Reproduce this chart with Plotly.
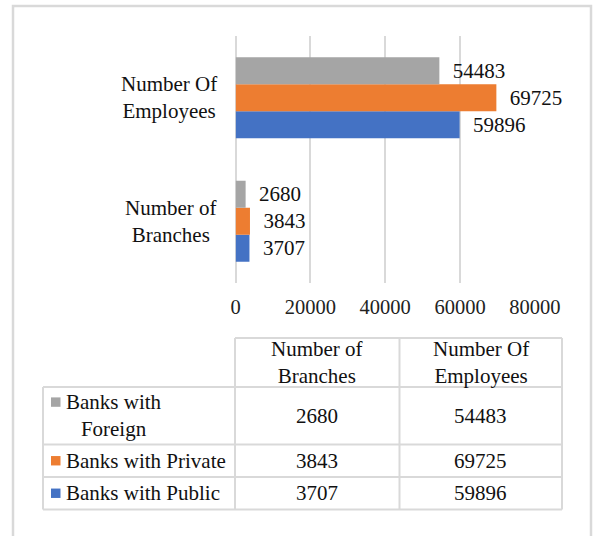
import plotly.graph_objects as go

# ---------------- data ----------------
categories = ["Number of Branches", "Number Of Employees"]
category_labels = ["Number of<br>Branches", "Number Of<br>Employees"]
series_names = ["Banks with Public", "Banks with Private", "Banks with Foreign"]
series_labels = ["Banks with Public", "Banks with Private", "Banks with<br>Foreign"]
public_values = [3707, 59896]
private_values = [3843, 69725]
foreign_values = [2680, 54483]
x_tick_values = [0, 20000, 40000, 60000, 80000]
x_tick_labels = ["0", "20000", "40000", "60000", "80000"]

series_values = [public_values, private_values, foreign_values]
series_colors = ["#4472C4", "#ED7D31", "#A5A5A5"]

# ---------------- layout helpers ----------------
W, H = 593, 536
FONT = "Liberation Serif, Times New Roman, Times, serif"
TXT = "#111111"
GRID = "#d9d9d9"
FS = 21


def px(x):
    return x / W


def py(y):
    return 1 - y / H


fig = go.Figure()
for name, vals, col in zip(series_names, series_values, series_colors):
    fig.add_trace(go.Bar(
        name=name, y=categories, x=vals, orientation="h",
        marker=dict(color=col, line=dict(width=0)),
        text=[str(v) for v in vals],
        texttemplate="\u00a0\u00a0%{text}",
        textposition="outside", cliponaxis=False, constraintext="none",
        textfont=dict(family=FONT, size=FS, color=TXT),
        hoverinfo="x+name",
    ))

shapes = []
annotations = []

# outer frame
shapes.append(dict(type="rect", xref="paper", yref="paper",
                   x0=px(13), x1=px(591), y0=py(6), y1=py(560),
                   line=dict(color=GRID, width=2.5), layer="below"))

# category labels (centered lines, right edge near axis)
for cat, lab in zip(categories, category_labels):
    annotations.append(dict(x=px(219), xref="paper", y=cat, yref="y",
                            xanchor="right", yanchor="middle", align="center",
                            text=lab, showarrow=False,
                            font=dict(family=FONT, size=FS, color=TXT)))

# ---------------- data table ----------------
col_edges = [43, 235, 399.5, 562]
row_edges = [338, 387, 444.5, 477, 509.5]
LC = "#d9d9d9"
LW = 2

def hline(y, x0, x1):
    shapes.append(dict(type="line", xref="paper", yref="paper",
                       x0=px(x0), x1=px(x1), y0=py(y), y1=py(y),
                       line=dict(color=LC, width=LW)))

def vline(x, y0, y1):
    shapes.append(dict(type="line", xref="paper", yref="paper",
                       x0=px(x), x1=px(x), y0=py(y0), y1=py(y1),
                       line=dict(color=LC, width=LW)))

hline(row_edges[0], col_edges[1], col_edges[3])
for y in row_edges[1:]:
    hline(y, col_edges[0], col_edges[3])
vline(col_edges[0], row_edges[1], row_edges[-1])
for x in col_edges[1:]:
    vline(x, row_edges[0], row_edges[-1])

# header
for j, lab in enumerate(category_labels):
    cx = (col_edges[j + 1] + col_edges[j + 2]) / 2
    cy = (row_edges[0] + row_edges[1]) / 2
    annotations.append(dict(x=px(cx), y=py(cy), xref="paper", yref="paper",
                            xanchor="center", yanchor="middle", align="center",
                            text=lab, showarrow=False,
                            font=dict(family=FONT, size=FS, color=TXT)))

# rows: top to bottom = Foreign, Private, Public
order = [2, 1, 0]
LINE_H = 1.3 * FS
for r, si in enumerate(order):
    cy = (row_edges[r + 1] + row_edges[r + 2]) / 2
    lab = series_labels[si]
    nlines = lab.count("<br>") + 1
    annotations.append(dict(x=px(64), y=py(cy), xref="paper", yref="paper",
                            xanchor="left", yanchor="middle", align="center",
                            text=lab, showarrow=False,
                            font=dict(family=FONT, size=FS, color=TXT)))
    sq_c = cy - (nlines - 1) * LINE_H / 2
    shapes.append(dict(type="rect", xref="paper", yref="paper",
                       x0=px(51), x1=px(60.5), y0=py(sq_c - 4.7), y1=py(sq_c + 4.7),
                       fillcolor=series_colors[si], line=dict(width=0)))
    for j in range(len(categories)):
        cx = (col_edges[j + 1] + col_edges[j + 2]) / 2
        annotations.append(dict(x=px(cx), y=py(cy), xref="paper", yref="paper",
                                xanchor="center", yanchor="middle",
                                text=str(series_values[si][j]), showarrow=False,
                                font=dict(family=FONT, size=FS, color=TXT)))

fig.update_layout(
    width=W, height=H, autosize=False,
    margin=dict(l=0, r=0, t=0, b=0, pad=0, autoexpand=False),
    paper_bgcolor="white", plot_bgcolor="white",
    showlegend=False,
    barmode="group", bargap=0.344, bargroupgap=0,
    font=dict(family=FONT, size=FS, color=TXT),
    xaxis=dict(domain=[px(235.6), px(534.8)], range=[0, 80000],
               automargin=False,
               tickvals=x_tick_values, ticktext=x_tick_labels,
               showgrid=True, gridcolor=GRID, gridwidth=2,
               zeroline=True, zerolinecolor=GRID, zerolinewidth=2,
               showline=False, ticks="", ticklabelstandoff=9,
               tickfont=dict(family=FONT, size=20.5, color="#222222"),
               fixedrange=True),
    yaxis=dict(domain=[py(283), py(36)], type="category", automargin=False,
               categoryorder="array", categoryarray=categories,
               showticklabels=False, showgrid=False, zeroline=False,
               showline=False, fixedrange=True),
    shapes=shapes,
    annotations=annotations,
)

fig.write_html("out.html", config={"responsive": False, "displayModeBar": False})
